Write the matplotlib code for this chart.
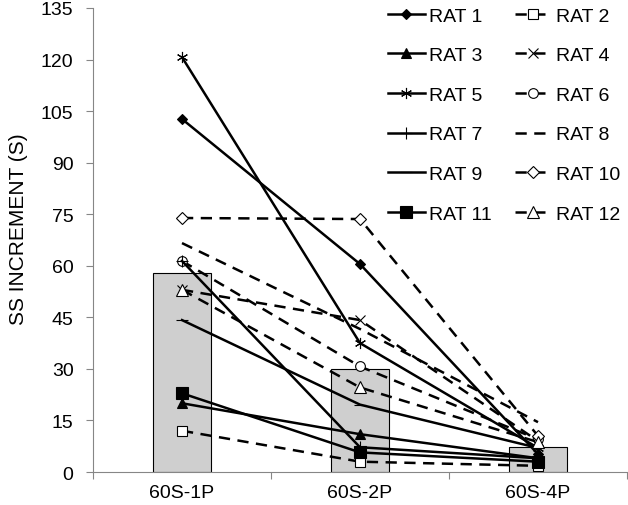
import matplotlib.pyplot as plt

plt.rcParams['font.family'] = ['Liberation Sans', 'DejaVu Sans']

# Data
categories = ['60S-1P', '60S-2P', '60S-4P']
bar_means = [57.9, 30.0, 7.2]

rat_1 = [102.7, 60.5, 5.2]
rat_2 = [12.0, 3.0, 1.8]
rat_3 = [20.0, 11.0, 4.0]
rat_4 = [53.0, 44.2, 9.0]
rat_5 = [120.7, 37.5, 7.0]
rat_6 = [61.4, 30.7, 9.5]
rat_7 = [61.4, 7.2, 4.0]
rat_8 = [66.6, 41.6, 14.5]
rat_9 = [44.2, 19.6, 7.0]
rat_10 = [73.9, 73.6, 10.5]
rat_11 = [22.9, 5.7, 3.0]
rat_12 = [53.0, 24.6, 8.7]

rats = [rat_1, rat_2, rat_3, rat_4, rat_5, rat_6,
        rat_7, rat_8, rat_9, rat_10, rat_11, rat_12]
labels = ['RAT %d' % (i + 1) for i in range(12)]

# marker, size, face colour for each rat
marker_styles = [
    ('D', 5, 'black'),
    ('s', 7, 'white'),
    ('^', 7, 'black'),
    ('x', 7, 'black'),
    ((6, 2, 0), 8, 'black'),
    ('o', 7, 'white'),
    ('+', 9, 'black'),
    (None, 0, 'black'),
    ('_', 8, 'black'),
    ('D', 6, 'white'),
    ('s', 8, 'black'),
    ('^', 8, 'white'),
]

fig = plt.figure(figsize=(6.28, 5.06), dpi=100)
ax = fig.add_axes([93 / 628, 1 - 473 / 506, 534 / 628, 464 / 506])

x = list(range(len(categories)))
ax.bar(x, bar_means, width=0.33, color='#cfcfcf', edgecolor='black',
       linewidth=0.8, zorder=1)

handles = []
for i, vals in enumerate(rats):
    marker, ms, face = marker_styles[i]
    ls = '-' if i % 2 == 0 else (0, (4.5, 3))
    line, = ax.plot(x, vals, color='black', linewidth=1.8, linestyle=ls,
                    marker=marker, markersize=ms, markerfacecolor=face,
                    markeredgecolor='black', markeredgewidth=0.8,
                    zorder=3, label=labels[i])
    handles.append(line)

# Legend: 2 columns, row-wise ordering like the original
order = [0, 2, 4, 6, 8, 10, 1, 3, 5, 7, 9, 11]
ax.legend([handles[k] for k in order], [labels[k] for k in order],
          ncol=2, frameon=False, fontsize=14, loc='upper left',
          bbox_to_anchor=(388 / 628, 1 - 8 / 506),
          bbox_transform=fig.transFigure, borderpad=0, borderaxespad=0,
          handlelength=1.9, handletextpad=0.2, columnspacing=1.2,
          labelspacing=1.13)

ax.set_xlim(-0.5, 2.5)
ax.set_ylim(0, 135)
ax.set_yticks(range(0, 136, 15))
ax.set_xticks([-0.5, 0.5, 1.5, 2.5])
ax.set_xticklabels([])
ax.set_xticks(x, minor=True)
ax.set_xticklabels(categories, minor=True)
ax.tick_params(axis='x', which='major', length=5, color='#868686')
ax.tick_params(axis='x', which='minor', length=0, pad=9, labelsize=14)
ax.tick_params(axis='y', length=5, color='#868686', pad=9, labelsize=14)

for side in ['top', 'right']:
    ax.spines[side].set_visible(False)
for side in ['left', 'bottom']:
    ax.spines[side].set_color('#868686')

ax.set_ylabel('SS INCREMENT (S)', fontsize=15)
ax.yaxis.set_label_coords(-0.122, 0.525)

fig.savefig('out.png', dpi=100)
